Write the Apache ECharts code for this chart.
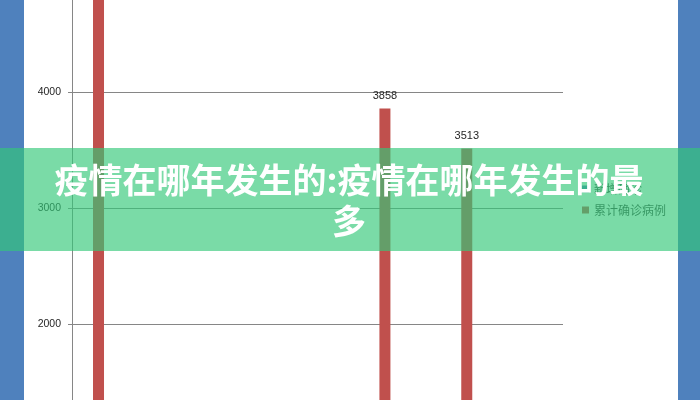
<!DOCTYPE html>
<html>
<head>
<meta charset="utf-8">
<script src="https://cdn.jsdelivr.net/npm/echarts@6/dist/echarts.min.js"></script>
<style>
html,body{margin:0;padding:0;background:#fff;}
#c{width:700px;height:400px;}
</style>
</head>
<body>
<div id="c"></div>
<script>
const categories = ['类别1','类别2','类别3','类别4','类别5','类别6','类别7','类别8','类别9','类别10','类别11','类别12'];
const seriesNames = ['新增确诊','累计确诊病例'];
const newCases = [null,null,null,null,null,null,null,null,null,null,null,null];
const totalCases = [5200,null,null,null,null,null,null,3858,null,3513,null,null];
const yTicks = [0,1000,2000,3000,4000,5000];
const titleText = '疫情在哪年发生的:疫情在哪年发生的最多';

const chart = echarts.init(document.getElementById('c'), null, {renderer:'canvas'});
chart.setOption({
  animation:false,
  backgroundColor:'#ffffff',
  grid:{left:72,right:137,top:-24,bottom:-156,containLabel:false,outerBoundsMode:'none'},
  legend:{
    orient:'vertical',left:582,top:182,padding:0,itemWidth:7,itemHeight:7,itemGap:7,
    icon:'rect',
    textStyle:{fontFamily:"'Noto Sans CJK SC'",fontSize:12,lineHeight:14,color:'#404040'},
    data:seriesNames
  },
  xAxis:{
    type:'category',data:categories,
    axisLine:{show:false},axisTick:{show:false},axisLabel:{show:false}
  },
  yAxis:{
    type:'value',min:yTicks[0],max:yTicks[yTicks.length-1],interval:1000,
    axisLine:{show:true,lineStyle:{color:'#868686',width:1}},
    axisTick:{show:true,length:4,lineStyle:{color:'#868686'}},
    axisLabel:{margin:11,fontFamily:"'Liberation Sans'",fontSize:10.5,color:'#262626',
      formatter:function(v){return String(v);}},
    splitLine:{show:true,lineStyle:{color:'#868686',width:1}}
  },
  series:[
    {name:seriesNames[0],type:'bar',data:newCases,barWidth:11,barGap:'10%',
     itemStyle:{color:'#4F81BD'}},
    {name:seriesNames[1],type:'bar',data:totalCases,barWidth:11,barGap:'10%',
     itemStyle:{color:'#C0504D'},
     label:{show:true,position:'top',distance:7,fontFamily:"'Liberation Sans'",fontSize:11,color:'#262626'}}
  ],
  graphic:[
    {type:'rect',z:50,shape:{x:0,y:0,width:24,height:400},style:{fill:'#4F81BD'}},
    {type:'rect',z:50,shape:{x:678,y:0,width:22,height:400},style:{fill:'#4F81BD'}},
    {type:'rect',z:100,shape:{x:0,y:148,width:700,height:103},style:{fill:'rgba(50,200,120,0.65)'}},
    {type:'text',z:101,x:349,y:200.5,
     style:{text:titleText.slice(0,18)+'\n'+titleText.slice(18),fill:'#ffffff',
       fontFamily:"'Noto Sans CJK SC'",fontWeight:'bold',fontSize:34,lineHeight:41,
       align:'center',verticalAlign:'middle'}}
  ]
});
</script>
</body>
</html>
